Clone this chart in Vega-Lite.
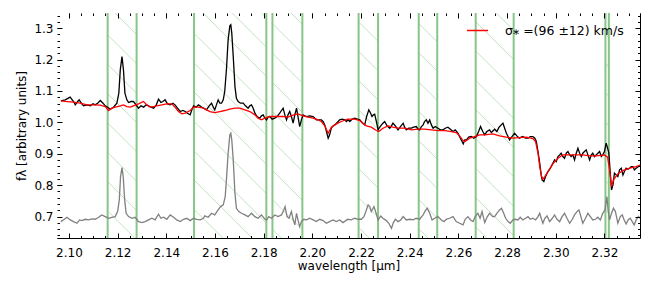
{
  "$schema": "https://vega.github.io/schema/vega-lite/v6.json",
  "width": 583,
  "height": 225,
  "autosize": {"type": "none"},
  "padding": {"left": 57, "top": 13, "right": 14, "bottom": 53},
  "background": "white",
  "config": {
    "view": {"stroke": "black", "strokeWidth": 1},
    "font": "DejaVu Sans",
    "axis": {"grid": false, "domain": false, "ticks": true, "tickColor": "black", "tickWidth": 1, "labelColor": "black", "titleColor": "black", "labelFont": "DejaVu Sans", "titleFont": "DejaVu Sans", "labelFontSize": 12, "titleFontSize": 12, "titleFontWeight": "normal", "labelOverlap": false, "labelFlush": false, "labelBound": false}
  },
  "datasets": {
    "obs": [
      {"w":2.0967,"f":1.0685},{"w":2.0985,"f":1.0717},{"w":2.1005,"f":1.0802},{"w":2.1019,"f":1.0663},{"w":2.1026,"f":1.0557},{"w":2.1036,"f":1.0663},{"w":2.1042,"f":1.0717},{"w":2.1053,"f":1.0589},{"w":2.1060,"f":1.0525},{"w":2.1074,"f":1.0557},{"w":2.1088,"f":1.0525},{"w":2.1099,"f":1.0589},{"w":2.1108,"f":1.0557},{"w":2.1118,"f":1.0610},{"w":2.1129,"f":1.0695},{"w":2.1140,"f":1.0610},{"w":2.1149,"f":1.0525},{"w":2.1159,"f":1.0483},{"w":2.1170,"f":1.0419},{"w":2.1183,"f":1.0483},{"w":2.1197,"f":1.0610},{"w":2.1205,"f":1.0929},{"w":2.1211,"f":1.1672},{"w":2.1218,"f":1.2097},{"w":2.1224,"f":1.1672},{"w":2.1230,"f":1.0929},{"w":2.1238,"f":1.0717},{"w":2.1245,"f":1.0632},{"w":2.1255,"f":1.0663},{"w":2.1265,"f":1.0663},{"w":2.1276,"f":1.0557},{"w":2.1286,"f":1.0451},{"w":2.1296,"f":1.0525},{"w":2.1307,"f":1.0483},{"w":2.1317,"f":1.0557},{"w":2.1327,"f":1.0525},{"w":2.1337,"f":1.0483},{"w":2.1348,"f":1.0451},{"w":2.1359,"f":1.0557},{"w":2.1368,"f":1.0738},{"w":2.1378,"f":1.0632},{"w":2.1386,"f":1.0663},{"w":2.1395,"f":1.0717},{"w":2.1405,"f":1.0589},{"w":2.1416,"f":1.0557},{"w":2.1427,"f":1.0610},{"w":2.1436,"f":1.0557},{"w":2.1446,"f":1.0451},{"w":2.1457,"f":1.0345},{"w":2.1468,"f":1.0377},{"w":2.1478,"f":1.0345},{"w":2.1487,"f":1.0292},{"w":2.1498,"f":1.0239},{"w":2.1505,"f":1.0398},{"w":2.1512,"f":1.0525},{"w":2.1523,"f":1.0483},{"w":2.1532,"f":1.0557},{"w":2.1542,"f":1.0504},{"w":2.1553,"f":1.0451},
      {"w":2.1565,"f":1.0398},{"w":2.1576,"f":1.0525},{"w":2.1586,"f":1.0610},{"w":2.1593,"f":1.0483},{"w":2.1599,"f":1.0398},{"w":2.1606,"f":1.0557},{"w":2.1613,"f":1.0716},{"w":2.1620,"f":1.0610},{"w":2.1627,"f":1.0610},{"w":2.1634,"f":1.0716},{"w":2.1640,"f":1.0982},{"w":2.1647,"f":1.1672},{"w":2.1654,"f":1.2627},{"w":2.1661,"f":1.3073},{"w":2.1665,"f":1.3105},{"w":2.1669,"f":1.2839},{"w":2.1675,"f":1.2096},{"w":2.1682,"f":1.1141},{"w":2.1688,"f":1.0769},{"w":2.1695,"f":1.0663},{"w":2.1705,"f":1.0610},{"w":2.1716,"f":1.0610},{"w":2.1725,"f":1.0525},{"w":2.1736,"f":1.0451},{"w":2.1743,"f":1.0525},{"w":2.1750,"f":1.0557},{"w":2.1757,"f":1.0451},{"w":2.1764,"f":1.0292},{"w":2.1773,"f":1.0185},{"w":2.1784,"f":1.0132},{"w":2.1791,"f":1.0207},{"w":2.1798,"f":1.0239},{"w":2.1805,"f":1.0132},{"w":2.1812,"f":1.0079},{"w":2.1818,"f":1.0164},{"w":2.1825,"f":1.0185},{"w":2.1835,"f":1.0101},{"w":2.1846,"f":1.0132},{"w":2.1855,"f":1.0185},{"w":2.1866,"f":1.0292},{"w":2.1873,"f":1.0377},{"w":2.1880,"f":1.0451},{"w":2.1887,"f":1.0239},{"w":2.1894,"f":1.0079},{"w":2.1900,"f":1.0239},{"w":2.1907,"f":1.0345},{"w":2.1914,"f":1.0185},{"w":2.1921,"f":0.9973},{"w":2.1928,"f":1.0239},{"w":2.1935,"f":1.0451},{"w":2.1941,"f":1.0185},{"w":2.1948,"f":0.9867},{"w":2.1955,"f":1.0079},{"w":2.1962,"f":1.0239},{"w":2.1969,"f":1.0207},{"w":2.1976,"f":1.0185},{"w":2.1989,"f":1.0207},{"w":2.2003,"f":1.0185},{"w":2.2010,"f":1.0132},{"w":2.2017,"f":1.0079},{"w":2.2026,"f":1.0079},{"w":2.2037,"f":1.0079},{"w":2.2044,"f":1.0027},{"w":2.2051,"f":0.9920},{"w":2.2058,"f":0.9708},{"w":2.2065,"f":0.9495},{"w":2.2071,"f":0.9602},{"w":2.2078,"f":0.9814},{"w":2.2085,"f":0.9888},{"w":2.2092,"f":0.9920},{"w":2.2099,"f":0.9973},{"w":2.2106,"f":1.0027},{"w":2.2112,"f":1.0079},{"w":2.2122,"f":1.0101},{"w":2.2133,"f":1.0079},{"w":2.2140,"f":1.0027},
      {"w":2.2147,"f":1.0080},{"w":2.2154,"f":1.0027},{"w":2.2163,"f":1.0101},{"w":2.2174,"f":1.0133},{"w":2.2185,"f":1.0101},{"w":2.2195,"f":1.0080},{"w":2.2204,"f":0.9995},{"w":2.2215,"f":0.9920},{"w":2.2223,"f":1.0186},{"w":2.2232,"f":1.0398},{"w":2.2238,"f":1.0313},{"w":2.2245,"f":1.0186},{"w":2.2251,"f":1.0239},{"w":2.2256,"f":1.0260},{"w":2.2263,"f":1.0027},{"w":2.2270,"f":0.9761},{"w":2.2277,"f":0.9846},{"w":2.2284,"f":0.9920},{"w":2.2290,"f":0.9973},{"w":2.2297,"f":1.0027},{"w":2.2307,"f":0.9888},{"w":2.2318,"f":0.9814},{"w":2.2325,"f":0.9888},{"w":2.2331,"f":0.9973},{"w":2.2341,"f":0.9888},{"w":2.2352,"f":0.9761},{"w":2.2362,"f":0.9867},{"w":2.2373,"f":0.9973},{"w":2.2379,"f":0.9846},{"w":2.2386,"f":0.9761},{"w":2.2396,"f":0.9814},{"w":2.2407,"f":0.9814},{"w":2.2416,"f":0.9846},{"w":2.2427,"f":0.9867},{"w":2.2434,"f":0.9782},{"w":2.2441,"f":0.9761},{"w":2.2448,"f":0.9867},{"w":2.2455,"f":0.9920},{"w":2.2461,"f":1.0027},{"w":2.2468,"f":1.0080},{"w":2.2475,"f":0.9973},{"w":2.2482,"f":1.0080},{"w":2.2489,"f":0.9920},{"w":2.2496,"f":0.9814},{"w":2.2505,"f":0.9867},{"w":2.2516,"f":0.9814},{"w":2.2526,"f":0.9761},{"w":2.2537,"f":0.9761},{"w":2.2546,"f":0.9814},{"w":2.2557,"f":0.9846},{"w":2.2567,"f":0.9782},{"w":2.2578,"f":0.9708},{"w":2.2587,"f":0.9761},{"w":2.2598,"f":0.9655},{"w":2.2608,"f":0.9496},{"w":2.2615,"f":0.9390},{"w":2.2620,"f":0.9315},{"w":2.2626,"f":0.9443},{"w":2.2633,"f":0.9443},{"w":2.2642,"f":0.9528},{"w":2.2653,"f":0.9549},{"w":2.2663,"f":0.9496},{"w":2.2674,"f":0.9549},{"w":2.2683,"f":0.9708},{"w":2.2691,"f":0.9867},{"w":2.2700,"f":0.9708},{"w":2.2708,"f":0.9602},{"w":2.2717,"f":0.9708},{"w":2.2728,"f":0.9761},{"w":2.2735,"f":0.9676},
      {"w":2.2749,"f":0.9782},{"w":2.2758,"f":0.9708},{"w":2.2767,"f":0.9846},{"w":2.2776,"f":0.9920},{"w":2.2783,"f":0.9973},{"w":2.2790,"f":0.9814},{"w":2.2797,"f":0.9655},{"w":2.2804,"f":0.9549},{"w":2.2810,"f":0.9443},{"w":2.2820,"f":0.9549},{"w":2.2831,"f":0.9655},{"w":2.2840,"f":0.9570},{"w":2.2851,"f":0.9496},{"w":2.2858,"f":0.9528},{"w":2.2865,"f":0.9549},{"w":2.2875,"f":0.9496},{"w":2.2886,"f":0.9496},{"w":2.2895,"f":0.9549},{"w":2.2906,"f":0.9549},{"w":2.2914,"f":0.9496},{"w":2.2920,"f":0.9390},{"w":2.2927,"f":0.9071},{"w":2.2934,"f":0.8700},{"w":2.2940,"f":0.8328},{"w":2.2944,"f":0.8169},{"w":2.2951,"f":0.8116},{"w":2.2958,"f":0.8275},{"w":2.2968,"f":0.8434},{"w":2.2975,"f":0.8509},{"w":2.2981,"f":0.8593},{"w":2.2988,"f":0.8700},{"w":2.2995,"f":0.8806},{"w":2.3002,"f":0.8753},{"w":2.3009,"f":0.8912},{"w":2.3016,"f":0.8965},{"w":2.3022,"f":0.9018},{"w":2.3029,"f":0.8912},{"w":2.3036,"f":0.8859},{"w":2.3043,"f":0.9018},{"w":2.3050,"f":0.9071},{"w":2.3057,"f":0.8965},{"w":2.3063,"f":0.8912},{"w":2.3070,"f":0.8965},{"w":2.3077,"f":0.8806},{"w":2.3084,"f":0.9018},{"w":2.3091,"f":0.9177},{"w":2.3098,"f":0.9018},{"w":2.3105,"f":0.8912},{"w":2.3111,"f":0.9018},{"w":2.3118,"f":0.9071},{"w":2.3125,"f":0.9124},{"w":2.3132,"f":0.8965},{"w":2.3139,"f":0.8806},{"w":2.3146,"f":0.8965},{"w":2.3152,"f":0.9018},{"w":2.3159,"f":0.8912},{"w":2.3166,"f":0.8965},{"w":2.3173,"f":0.9018},{"w":2.3180,"f":0.9071},{"w":2.3187,"f":0.8912},{"w":2.3193,"f":0.8965},{"w":2.3200,"f":0.9071},{"w":2.3207,"f":0.9337},{"w":2.3213,"f":0.9177},{"w":2.3218,"f":0.9018},{"w":2.3224,"f":0.8381},{"w":2.3229,"f":0.7850},{"w":2.3235,"f":0.8010},{"w":2.3241,"f":0.8381},{"w":2.3248,"f":0.8328},{"w":2.3255,"f":0.8275},{"w":2.3262,"f":0.8487},{"w":2.3269,"f":0.8540},{"w":2.3276,"f":0.8328},{"w":2.3282,"f":0.8434},{"w":2.3289,"f":0.8540},{"w":2.3296,"f":0.8509},{"w":2.3303,"f":0.8540},{"w":2.3310,"f":0.8593},{"w":2.3317,"f":0.8593},{"w":2.3323,"f":0.8487},{"w":2.3330,"f":0.8540},{"w":2.3340,"f":0.8593},{"w":2.3351,"f":0.8647}
    ],
    "model": [
      {"w":2.0967,"f":1.0685},{"w":2.0992,"f":1.0663},{"w":2.1019,"f":1.0642},{"w":2.1046,"f":1.0610},{"w":2.1074,"f":1.0557},{"w":2.1101,"f":1.0557},{"w":2.1129,"f":1.0547},{"w":2.1149,"f":1.0504},{"w":2.1163,"f":1.0377},{"w":2.1176,"f":1.0451},{"w":2.1190,"f":1.0483},{"w":2.1211,"f":1.0525},{"w":2.1224,"f":1.0557},{"w":2.1238,"f":1.0504},{"w":2.1252,"f":1.0483},{"w":2.1265,"f":1.0525},{"w":2.1286,"f":1.0589},{"w":2.1306,"f":1.0663},{"w":2.1320,"f":1.0557},{"w":2.1334,"f":1.0483},{"w":2.1348,"f":1.0504},{"w":2.1361,"f":1.0525},{"w":2.1382,"f":1.0557},{"w":2.1402,"f":1.0589},{"w":2.1423,"f":1.0589},{"w":2.1436,"f":1.0483},{"w":2.1450,"f":1.0345},{"w":2.1464,"f":1.0271},{"w":2.1478,"f":1.0292},{"w":2.1498,"f":1.0377},{"w":2.1512,"f":1.0483},{"w":2.1532,"f":1.0483},{"w":2.1553,"f":1.0451},
      {"w":2.1579,"f":1.0345},{"w":2.1599,"f":1.0313},{"w":2.1620,"f":1.0345},{"w":2.1640,"f":1.0377},{"w":2.1661,"f":1.0419},{"w":2.1682,"f":1.0451},{"w":2.1702,"f":1.0451},{"w":2.1723,"f":1.0398},{"w":2.1743,"f":1.0345},{"w":2.1764,"f":1.0239},{"w":2.1777,"f":1.0133},{"w":2.1791,"f":1.0080},{"w":2.1805,"f":1.0133},{"w":2.1825,"f":1.0186},{"w":2.1852,"f":1.0186},{"w":2.1880,"f":1.0186},{"w":2.1900,"f":1.0164},{"w":2.1921,"f":1.0228},{"w":2.1941,"f":1.0271},{"w":2.1962,"f":1.0207},{"w":2.1982,"f":1.0164},{"w":2.2003,"f":1.0133},{"w":2.2024,"f":1.0080},{"w":2.2037,"f":1.0027},{"w":2.2051,"f":0.9888},{"w":2.2065,"f":0.9655},{"w":2.2078,"f":0.9846},{"w":2.2099,"f":0.9952},{"w":2.2119,"f":1.0027},{"w":2.2145,"f":1.0101},
      {"w":2.2174,"f":1.0101},{"w":2.2195,"f":1.0058},{"w":2.2208,"f":0.9973},{"w":2.2222,"f":0.9888},{"w":2.2242,"f":0.9846},{"w":2.2263,"f":0.9740},{"w":2.2273,"f":0.9708},{"w":2.2290,"f":0.9814},{"w":2.2311,"f":0.9888},{"w":2.2331,"f":0.9846},{"w":2.2352,"f":0.9814},{"w":2.2379,"f":0.9814},{"w":2.2407,"f":0.9761},{"w":2.2434,"f":0.9782},{"w":2.2461,"f":0.9782},{"w":2.2489,"f":0.9761},{"w":2.2516,"f":0.9740},{"w":2.2544,"f":0.9740},{"w":2.2571,"f":0.9708},{"w":2.2591,"f":0.9676},{"w":2.2605,"f":0.9570},{"w":2.2619,"f":0.9421},{"w":2.2628,"f":0.9390},{"w":2.2646,"f":0.9496},{"w":2.2667,"f":0.9549},{"w":2.2687,"f":0.9602},{"w":2.2708,"f":0.9602},{"w":2.2741,"f":0.9634},
      {"w":2.2769,"f":0.9570},{"w":2.2797,"f":0.9528},{"w":2.2824,"f":0.9496},{"w":2.2851,"f":0.9517},{"w":2.2879,"f":0.9528},{"w":2.2906,"f":0.9485},{"w":2.2917,"f":0.9390},{"w":2.2927,"f":0.9018},{"w":2.2934,"f":0.8593},{"w":2.2942,"f":0.8275},{"w":2.2947,"f":0.8190},{"w":2.2955,"f":0.8275},{"w":2.2968,"f":0.8434},{"w":2.2988,"f":0.8678},{"w":2.3009,"f":0.8859},{"w":2.3029,"f":0.8965},{"w":2.3057,"f":0.8965},{"w":2.3084,"f":0.8965},{"w":2.3111,"f":0.8965},{"w":2.3139,"f":0.8933},{"w":2.3166,"f":0.8933},{"w":2.3200,"f":0.8965},{"w":2.3213,"f":0.8891},{"w":2.3221,"f":0.8487},{"w":2.3229,"f":0.7956},{"w":2.3237,"f":0.8169},{"w":2.3255,"f":0.8360},{"w":2.3276,"f":0.8466},{"w":2.3303,"f":0.8540},{"w":2.3330,"f":0.8593},{"w":2.3351,"f":0.8647}
    ],
    "resid": [
      {"w":2.0967,"f":0.6842},{"w":2.0981,"f":0.6916},{"w":2.0992,"f":0.6980},{"w":2.1005,"f":0.6895},{"w":2.1019,"f":0.6842},{"w":2.1033,"f":0.6789},{"w":2.1044,"f":0.6895},{"w":2.1053,"f":0.6874},{"w":2.1067,"f":0.6916},{"w":2.1081,"f":0.6895},{"w":2.1094,"f":0.6927},{"w":2.1108,"f":0.6916},{"w":2.1122,"f":0.6980},{"w":2.1135,"f":0.7054},{"w":2.1149,"f":0.7001},{"w":2.1163,"f":0.6948},{"w":2.1176,"f":0.6980},{"w":2.1190,"f":0.7001},{"w":2.1200,"f":0.7160},{"w":2.1207,"f":0.7532},{"w":2.1212,"f":0.8275},{"w":2.1218,"f":0.8562},{"w":2.1223,"f":0.8275},{"w":2.1229,"f":0.7532},{"w":2.1235,"f":0.7107},{"w":2.1245,"f":0.7001},{"w":2.1259,"f":0.6948},{"w":2.1272,"f":0.6980},{"w":2.1286,"f":0.6842},{"w":2.1300,"f":0.6810},{"w":2.1313,"f":0.6842},{"w":2.1327,"f":0.6895},{"w":2.1341,"f":0.6948},{"w":2.1354,"f":0.6895},{"w":2.1368,"f":0.7075},{"w":2.1378,"f":0.6948},{"w":2.1389,"f":0.6980},{"w":2.1402,"f":0.6916},{"w":2.1416,"f":0.7054},{"w":2.1430,"f":0.6980},{"w":2.1443,"f":0.6895},{"w":2.1457,"f":0.6842},{"w":2.1471,"f":0.6916},{"w":2.1484,"f":0.6948},{"w":2.1498,"f":0.6874},{"w":2.1512,"f":0.6948},{"w":2.1525,"f":0.6916},{"w":2.1539,"f":0.6895},{"w":2.1553,"f":0.6948},
      {"w":2.1558,"f":0.7022},{"w":2.1572,"f":0.6980},{"w":2.1586,"f":0.7107},{"w":2.1599,"f":0.7054},{"w":2.1613,"f":0.7213},{"w":2.1623,"f":0.7320},{"w":2.1634,"f":0.7373},{"w":2.1642,"f":0.7638},{"w":2.1647,"f":0.8169},{"w":2.1654,"f":0.9018},{"w":2.1661,"f":0.9602},{"w":2.1665,"f":0.9655},{"w":2.1669,"f":0.9443},{"w":2.1675,"f":0.8806},{"w":2.1682,"f":0.7744},{"w":2.1688,"f":0.7266},{"w":2.1698,"f":0.7160},{"w":2.1709,"f":0.7107},{"w":2.1723,"f":0.7054},{"w":2.1736,"f":0.7001},{"w":2.1750,"f":0.7107},{"w":2.1764,"f":0.7001},{"w":2.1777,"f":0.6948},{"w":2.1791,"f":0.7054},{"w":2.1805,"f":0.6916},{"w":2.1812,"f":0.6895},{"w":2.1821,"f":0.7001},{"w":2.1832,"f":0.6948},{"w":2.1846,"f":0.7054},{"w":2.1859,"f":0.7001},{"w":2.1873,"f":0.7054},{"w":2.1883,"f":0.7213},{"w":2.1888,"f":0.7320},{"w":2.1896,"f":0.7001},{"w":2.1904,"f":0.6948},{"w":2.1914,"f":0.7160},{"w":2.1921,"f":0.6916},{"w":2.1928,"f":0.6736},{"w":2.1935,"f":0.7107},{"w":2.1941,"f":0.6895},{"w":2.1948,"f":0.6683},{"w":2.1955,"f":0.6842},{"w":2.1965,"f":0.6916},{"w":2.1976,"f":0.6895},{"w":2.1989,"f":0.6948},{"w":2.2003,"f":0.6895},{"w":2.2017,"f":0.6842},{"w":2.2030,"f":0.6916},{"w":2.2044,"f":0.6874},{"w":2.2058,"f":0.6789},{"w":2.2071,"f":0.6842},{"w":2.2085,"f":0.6895},{"w":2.2099,"f":0.6842},{"w":2.2112,"f":0.6895},{"w":2.2126,"f":0.6810},{"w":2.2145,"f":0.6916},
      {"w":2.2160,"f":0.6895},{"w":2.2174,"f":0.6948},{"w":2.2188,"f":0.6916},{"w":2.2201,"f":0.6916},{"w":2.2212,"f":0.7001},{"w":2.2222,"f":0.7213},{"w":2.2229,"f":0.7373},{"w":2.2236,"f":0.7320},{"w":2.2242,"f":0.7160},{"w":2.2253,"f":0.7320},{"w":2.2262,"f":0.7107},{"w":2.2270,"f":0.6895},{"w":2.2281,"f":0.7022},{"w":2.2290,"f":0.6948},{"w":2.2304,"f":0.6874},{"w":2.2314,"f":0.6789},{"w":2.2325,"f":0.6629},{"w":2.2333,"f":0.6810},{"w":2.2341,"f":0.6916},{"w":2.2352,"f":0.6842},{"w":2.2363,"f":0.6895},{"w":2.2373,"f":0.7001},{"w":2.2386,"f":0.6895},{"w":2.2400,"f":0.6916},{"w":2.2414,"f":0.6895},{"w":2.2427,"f":0.6948},{"w":2.2441,"f":0.6916},{"w":2.2455,"f":0.7054},{"w":2.2464,"f":0.7192},{"w":2.2472,"f":0.7266},{"w":2.2482,"f":0.7107},{"w":2.2492,"f":0.6895},{"w":2.2502,"f":0.6948},{"w":2.2516,"f":0.7001},{"w":2.2530,"f":0.6895},{"w":2.2541,"f":0.6842},{"w":2.2550,"f":0.6916},{"w":2.2564,"f":0.6948},{"w":2.2578,"f":0.7001},{"w":2.2591,"f":0.6842},{"w":2.2605,"f":0.6789},{"w":2.2619,"f":0.6736},{"w":2.2628,"f":0.6916},{"w":2.2639,"f":0.7001},{"w":2.2650,"f":0.6895},{"w":2.2660,"f":0.6842},{"w":2.2669,"f":0.7001},{"w":2.2680,"f":0.7107},{"w":2.2689,"f":0.6948},{"w":2.2697,"f":0.7160},{"w":2.2708,"f":0.6810},{"w":2.2719,"f":0.7001},{"w":2.2728,"f":0.7107},{"w":2.2741,"f":0.7001},
      {"w":2.2749,"f":0.7001},{"w":2.2758,"f":0.7107},{"w":2.2769,"f":0.7213},{"w":2.2777,"f":0.7266},{"w":2.2786,"f":0.7107},{"w":2.2794,"f":0.6948},{"w":2.2804,"f":0.6842},{"w":2.2813,"f":0.6789},{"w":2.2824,"f":0.6895},{"w":2.2835,"f":0.6916},{"w":2.2845,"f":0.6895},{"w":2.2854,"f":0.6980},{"w":2.2865,"f":0.6895},{"w":2.2876,"f":0.6948},{"w":2.2886,"f":0.7001},{"w":2.2895,"f":0.6916},{"w":2.2906,"f":0.6948},{"w":2.2917,"f":0.6895},{"w":2.2927,"f":0.7001},{"w":2.2934,"f":0.7107},{"w":2.2940,"f":0.6948},{"w":2.2947,"f":0.6789},{"w":2.2955,"f":0.6948},{"w":2.2964,"f":0.7022},{"w":2.2975,"f":0.6842},{"w":2.2986,"f":0.6948},{"w":2.2995,"f":0.7054},{"w":2.3005,"f":0.6916},{"w":2.3016,"f":0.6842},{"w":2.3026,"f":0.7001},{"w":2.3036,"f":0.7107},{"w":2.3046,"f":0.6948},{"w":2.3057,"f":0.6789},{"w":2.3068,"f":0.6916},{"w":2.3077,"f":0.7054},{"w":2.3087,"f":0.7160},{"w":2.3095,"f":0.7213},{"w":2.3105,"f":0.6948},{"w":2.3111,"f":0.6789},{"w":2.3122,"f":0.6948},{"w":2.3132,"f":0.7107},{"w":2.3142,"f":0.7001},{"w":2.3152,"f":0.6895},{"w":2.3163,"f":0.6916},{"w":2.3173,"f":0.6980},{"w":2.3183,"f":0.6895},{"w":2.3193,"f":0.7107},{"w":2.3202,"f":0.7213},{"w":2.3210,"f":0.7638},{"w":2.3215,"f":0.7213},{"w":2.3221,"f":0.6895},{"w":2.3229,"f":0.7107},{"w":2.3237,"f":0.7266},{"w":2.3245,"f":0.7160},{"w":2.3255,"f":0.6789},{"w":2.3265,"f":0.7001},{"w":2.3273,"f":0.7054},{"w":2.3281,"f":0.6895},{"w":2.3289,"f":0.6767},{"w":2.3297,"f":0.6895},{"w":2.3306,"f":0.6948},{"w":2.3314,"f":0.6842},{"w":2.3322,"f":0.6736},{"w":2.3330,"f":0.6895},{"w":2.3340,"f":0.7001},{"w":2.3351,"f":0.6916}
    ],
    "masked": [
      {"start":2.1159,"end":2.1278},{"start":2.1514,"end":2.1811},{"start":2.1836,"end":2.1959},{"start":2.2190,"end":2.2270},{"start":2.2437,"end":2.2513},{"start":2.2671,"end":2.2827},{"start":2.3204,"end":2.3218}
    ],
    "fitted": [
      {"start":2.0951,"end":2.1159},{"start":2.1278,"end":2.1514},{"start":2.1811,"end":2.1836},{"start":2.1959,"end":2.2190},{"start":2.2270,"end":2.2437},{"start":2.2513,"end":2.2671},{"start":2.2827,"end":2.3204},{"start":2.3218,"end":2.3346}
    ]
  },
  "layer": [
    {
      "data": {"values": [{"band": "mask"}]},
      "mark": {"type": "rect", "clip": true, "fill": {"gradient": "linear", "x1": 0, "y1": 1, "x2": 1.31376, "y2": 0.49297, "stops": [
        {"offset":0,"color":"white"},
        {"offset":0.0205,"color":"white"},{"offset":0.0216,"color":"#bfe3bf"},{"offset":0.0227,"color":"white"},
        {"offset":0.0538,"color":"white"},{"offset":0.0549,"color":"#bfe3bf"},{"offset":0.0560,"color":"white"},
        {"offset":0.0872,"color":"white"},{"offset":0.0883,"color":"#bfe3bf"},{"offset":0.0894,"color":"white"},
        {"offset":0.1205,"color":"white"},{"offset":0.1216,"color":"#bfe3bf"},{"offset":0.1227,"color":"white"},
        {"offset":0.1538,"color":"white"},{"offset":0.1549,"color":"#bfe3bf"},{"offset":0.1560,"color":"white"},
        {"offset":0.1872,"color":"white"},{"offset":0.1883,"color":"#bfe3bf"},{"offset":0.1894,"color":"white"},
        {"offset":0.2205,"color":"white"},{"offset":0.2216,"color":"#bfe3bf"},{"offset":0.2227,"color":"white"},
        {"offset":0.2538,"color":"white"},{"offset":0.2549,"color":"#bfe3bf"},{"offset":0.2560,"color":"white"},
        {"offset":0.2872,"color":"white"},{"offset":0.2883,"color":"#bfe3bf"},{"offset":0.2894,"color":"white"},
        {"offset":0.3205,"color":"white"},{"offset":0.3216,"color":"#bfe3bf"},{"offset":0.3227,"color":"white"},
        {"offset":0.3538,"color":"white"},{"offset":0.3549,"color":"#bfe3bf"},{"offset":0.3560,"color":"white"},
        {"offset":0.3872,"color":"white"},{"offset":0.3883,"color":"#bfe3bf"},{"offset":0.3894,"color":"white"},
        {"offset":0.4205,"color":"white"},{"offset":0.4216,"color":"#bfe3bf"},{"offset":0.4227,"color":"white"},
        {"offset":0.4538,"color":"white"},{"offset":0.4549,"color":"#bfe3bf"},{"offset":0.4560,"color":"white"},
        {"offset":0.4872,"color":"white"},{"offset":0.4883,"color":"#bfe3bf"},{"offset":0.4894,"color":"white"},
        {"offset":0.5205,"color":"white"},{"offset":0.5216,"color":"#bfe3bf"},{"offset":0.5227,"color":"white"},
        {"offset":0.5538,"color":"white"},{"offset":0.5549,"color":"#bfe3bf"},{"offset":0.5560,"color":"white"},
        {"offset":0.5872,"color":"white"},{"offset":0.5883,"color":"#bfe3bf"},{"offset":0.5894,"color":"white"},
        {"offset":0.6205,"color":"white"},{"offset":0.6216,"color":"#bfe3bf"},{"offset":0.6227,"color":"white"},
        {"offset":0.6538,"color":"white"},{"offset":0.6549,"color":"#bfe3bf"},{"offset":0.6560,"color":"white"},
        {"offset":0.6872,"color":"white"},{"offset":0.6883,"color":"#bfe3bf"},{"offset":0.6894,"color":"white"},
        {"offset":0.7205,"color":"white"},{"offset":0.7216,"color":"#bfe3bf"},{"offset":0.7227,"color":"white"},
        {"offset":0.7538,"color":"white"},{"offset":0.7549,"color":"#bfe3bf"},{"offset":0.7560,"color":"white"},
        {"offset":0.7872,"color":"white"},{"offset":0.7883,"color":"#bfe3bf"},{"offset":0.7894,"color":"white"},
        {"offset":0.8205,"color":"white"},{"offset":0.8216,"color":"#bfe3bf"},{"offset":0.8227,"color":"white"},
        {"offset":0.8538,"color":"white"},{"offset":0.8549,"color":"#bfe3bf"},{"offset":0.8560,"color":"white"},
        {"offset":0.8872,"color":"white"},{"offset":0.8883,"color":"#bfe3bf"},{"offset":0.8894,"color":"white"},
        {"offset":0.9205,"color":"white"},{"offset":0.9216,"color":"#bfe3bf"},{"offset":0.9227,"color":"white"},
        {"offset":1,"color":"white"}
      ]}},
      "encoding": {}
    },
    {
      "data": {"name": "fitted"},
      "mark": {"type": "rect", "fill": "white", "clip": true},
      "encoding": {
        "x": {"field": "start", "type": "quantitative", "scale": {"domain": [2.0951, 2.3346], "nice": false, "zero": false}, "axis": null},
        "x2": {"field": "end"},
        "y": {"datum": 0.632, "type": "quantitative", "scale": {"domain": [0.632, 1.348], "nice": false, "zero": false},
          "axis": {"orient": "right", "zindex": 2, "title": null, "labels": false, "tickSize": 2.5, "offset": -2.5,
            "values": [0.64,0.66,0.68,0.7,0.72,0.74,0.76,0.78,0.8,0.82,0.84,0.86,0.88,0.9,0.92,0.94,0.96,0.98,1.0,1.02,1.04,1.06,1.08,1.1,1.12,1.14,1.16,1.18,1.2,1.22,1.24,1.26,1.28,1.3,1.32,1.34]}},
        "y2": {"datum": 1.348}
      }
    },
    {
      "data": {"name": "masked"},
      "transform": [{"fold": ["start", "end"], "as": ["edge", "w"]}],
      "mark": {"type": "rule", "color": "#86c686", "strokeWidth": 2, "clip": true},
      "encoding": {
        "x": {"field": "w", "type": "quantitative", "scale": {"domain": [2.0951, 2.3346], "nice": false, "zero": false},
          "axis": {"orient": "top", "zindex": 2, "title": null, "labels": false, "tickSize": 2.5, "offset": -2.5,
            "values": [2.1,2.105,2.11,2.115,2.12,2.125,2.13,2.135,2.14,2.145,2.15,2.155,2.16,2.165,2.17,2.175,2.18,2.185,2.19,2.195,2.2,2.205,2.21,2.215,2.22,2.225,2.23,2.235,2.24,2.245,2.25,2.255,2.26,2.265,2.27,2.275,2.28,2.285,2.29,2.295,2.3,2.305,2.31,2.315,2.32,2.325,2.33]}}
      }
    },
    {
      "data": {"name": "resid"},
      "mark": {"type": "line", "color": "#808080", "strokeWidth": 1.3, "clip": true},
      "encoding": {
        "x": {"field": "w", "type": "quantitative", "scale": {"domain": [2.0951, 2.3346], "nice": false, "zero": false},
          "axis": {"orient": "bottom", "zindex": 2, "title": null, "labels": false, "tickSize": 2.5, "offset": -2.5,
            "values": [2.1,2.105,2.11,2.115,2.12,2.125,2.13,2.135,2.14,2.145,2.15,2.155,2.16,2.165,2.17,2.175,2.18,2.185,2.19,2.195,2.2,2.205,2.21,2.215,2.22,2.225,2.23,2.235,2.24,2.245,2.25,2.255,2.26,2.265,2.27,2.275,2.28,2.285,2.29,2.295,2.3,2.305,2.31,2.315,2.32,2.325,2.33]}},
        "y": {"field": "f", "type": "quantitative", "scale": {"domain": [0.632, 1.348], "nice": false, "zero": false},
          "axis": {"orient": "left", "zindex": 2, "title": null, "labels": false, "tickSize": 2.5, "offset": -2.5,
            "values": [0.64,0.66,0.68,0.7,0.72,0.74,0.76,0.78,0.8,0.82,0.84,0.86,0.88,0.9,0.92,0.94,0.96,0.98,1.0,1.02,1.04,1.06,1.08,1.1,1.12,1.14,1.16,1.18,1.2,1.22,1.24,1.26,1.28,1.3,1.32,1.34]}}
      }
    },
    {
      "data": {"name": "obs"},
      "mark": {"type": "line", "color": "black", "strokeWidth": 1.3, "clip": true},
      "encoding": {
        "x": {"field": "w", "type": "quantitative", "scale": {"domain": [2.0951, 2.3346], "nice": false, "zero": false},
          "axis": {"orient": "bottom", "zindex": 2, "title": "wavelength [μm]", "titlePadding": 2, "tickSize": 5, "offset": -5, "labelPadding": 9, "format": ".2f",
            "values": [2.1,2.12,2.14,2.16,2.18,2.2,2.22,2.24,2.26,2.28,2.3,2.32]}},
        "y": {"field": "f", "type": "quantitative", "scale": {"domain": [0.632, 1.348], "nice": false, "zero": false},
          "axis": {"orient": "left", "zindex": 2, "title": "fλ [arbitrary units]", "titlePadding": 5, "tickSize": 5, "offset": -5, "labelPadding": 4, "format": ".1f",
            "values": [0.7,0.8,0.9,1.0,1.1,1.2,1.3]}}
      }
    },
    {
      "data": {"name": "model"},
      "mark": {"type": "line", "strokeWidth": 1.3, "clip": true},
      "encoding": {
        "x": {"field": "w", "type": "quantitative", "scale": {"domain": [2.0951, 2.3346], "nice": false, "zero": false},
          "axis": {"orient": "top", "zindex": 2, "title": null, "labels": false, "tickSize": 5, "offset": -5,
            "values": [2.1,2.12,2.14,2.16,2.18,2.2,2.22,2.24,2.26,2.28,2.3,2.32]}},
        "y": {"field": "f", "type": "quantitative", "scale": {"domain": [0.632, 1.348], "nice": false, "zero": false},
          "axis": {"orient": "right", "zindex": 2, "title": null, "labels": false, "tickSize": 5, "offset": -5,
            "values": [0.7,0.8,0.9,1.0,1.1,1.2,1.3]}},
        "color": {"datum": "σ⁎ =(96 ±12) km/s", "type": "nominal", "scale": {"range": ["#ff0000"]},
          "legend": {"orient": "none", "legendX": 409, "legendY": 6, "title": null, "symbolType": "stroke", "symbolSize": 441, "symbolStrokeWidth": 1.5, "labelFont": "DejaVu Sans", "labelFontSize": 12.5, "labelColor": "black", "labelOffset": 16, "padding": 0, "labelLimit": 0}}
      }
    }
  ],
  "resolve": {"axis": {"x": "independent", "y": "independent"}}
}
